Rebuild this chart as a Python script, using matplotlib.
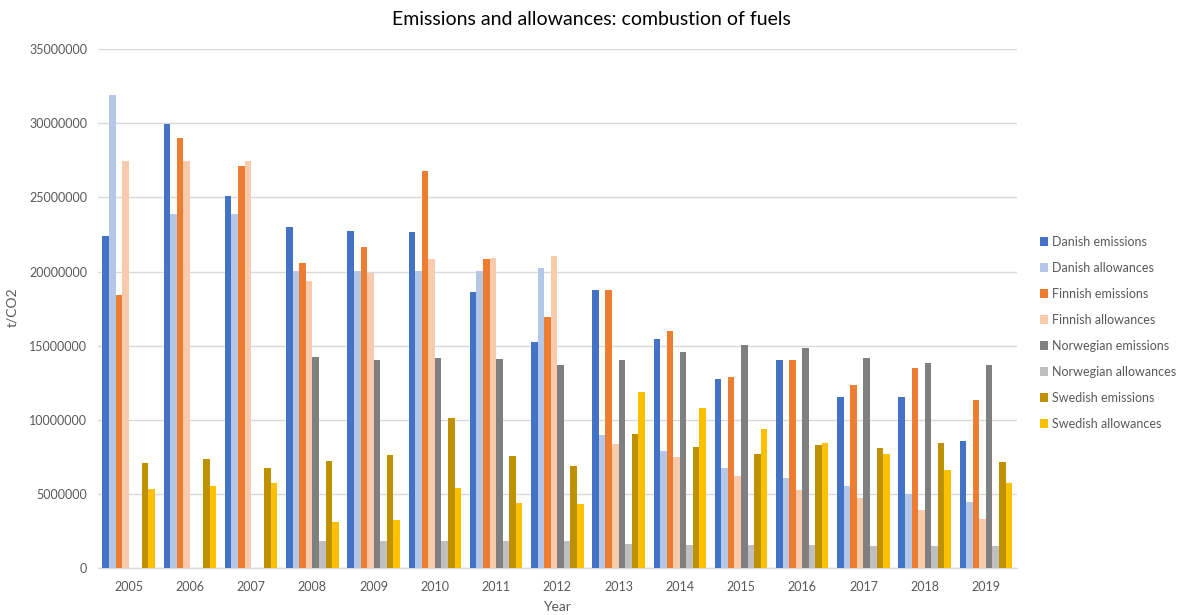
import numpy as np
import matplotlib
matplotlib.use("Agg")
import matplotlib.pyplot as plt

plt.rcParams['font.family'] = ['Lato', 'DejaVu Sans']

years = ["2005", "2006", "2007", "2008", "2009", "2010", "2011", "2012",
         "2013", "2014", "2015", "2016", "2017", "2018", "2019"]

danish_emissions = [22430000, 29970000, 25120000, 22990000, 22740000, 22680000, 18610000, 15270000,
                    18770000, 15420000, 12730000, 14010000, 11540000, 11540000, 8550000]
danish_allowances = [31880000, 23870000, 23870000, 20030000, 20030000, 20030000, 20030000, 20270000,
                     8980000, 7880000, 6780000, 6060000, 5500000, 5010000, 4470000]
finnish_emissions = [18450000, 29030000, 27120000, 20610000, 21640000, 26810000, 20840000, 16950000,
                     18770000, 15990000, 12910000, 14010000, 12350000, 13470000, 11320000]
finnish_allowances = [27440000, 27440000, 27440000, 19330000, 19890000, 20840000, 20920000, 21080000,
                      8350000, 7500000, 6220000, 5280000, 4710000, 3930000, 3280000]
norwegian_emissions = [np.nan, np.nan, np.nan, 14260000, 14010000, 14170000, 14080000, 13700000,
                       14010000, 14550000, 15020000, 14820000, 14170000, 13850000, 13700000]
norwegian_allowances = [np.nan, np.nan, np.nan, 1840000, 1840000, 1840000, 1840000, 1840000,
                        1620000, 1530000, 1530000, 1530000, 1460000, 1460000, 1460000]
swedish_emissions = [7070000, 7340000, 6780000, 7250000, 7630000, 10100000, 7570000, 6850000,
                     9070000, 8190000, 7660000, 8280000, 8130000, 8440000, 7160000]
swedish_allowances = [5340000, 5500000, 5730000, 3120000, 3210000, 5430000, 4380000, 4310000,
                      11850000, 10820000, 9380000, 8440000, 7720000, 6620000, 5750000]

series = [
    ("Danish emissions", danish_emissions, "#4472C4"),
    ("Danish allowances", danish_allowances, "#B4C7E7"),
    ("Finnish emissions", finnish_emissions, "#ED7D31"),
    ("Finnish allowances", finnish_allowances, "#F8CBAD"),
    ("Norwegian emissions", norwegian_emissions, "#7F7F7F"),
    ("Norwegian allowances", norwegian_allowances, "#BFBFBF"),
    ("Swedish emissions", swedish_emissions, "#BF9000"),
    ("Swedish allowances", swedish_allowances, "#FFC000"),
]

fig = plt.figure(figsize=(11.82, 6.15), dpi=100)
ax = fig.add_axes([0.083, 0.0764, 0.777, 0.8436])

x = np.arange(len(years))
n = len(series)
group_width = 0.857
bar_w = group_width / n
for i, (label, vals, color) in enumerate(series):
    offs = -group_width / 2 + bar_w * (i + 0.5)
    ax.bar(x + offs, np.array(vals, dtype=float), width=bar_w, color=color,
           label=label, linewidth=0, zorder=3)

ax.set_xlim(-0.5, len(years) - 0.5)
ax.set_ylim(0, 35000000)
ax.set_yticks(np.arange(0, 35000001, 5000000))
ax.yaxis.set_major_formatter(matplotlib.ticker.FuncFormatter(lambda v, p: f"{int(v)}"))
ax.set_xticks(x)
ax.set_xticklabels(years)
ax.tick_params(axis='both', length=0, labelsize=9, colors="#595959")
ax.tick_params(axis='y', pad=8)
ax.tick_params(axis='x', pad=9)

ax.grid(axis='y', color="#D9D9D9", linewidth=1, zorder=0)
for s in ["top", "right", "left"]:
    ax.spines[s].set_visible(False)
ax.spines["bottom"].set_color("#D9D9D9")
ax.spines["bottom"].set_linewidth(1)

fig.text(12 / 1182, 0.5, "t/CO2", rotation=90, ha="center", va="center",
         fontsize=10, color="#595959")
ax.set_xlabel("Year", fontsize=10, color="#595959", labelpad=6)

fig.text(0.5, 0.969, "Emissions and allowances: combustion of fuels",
         ha="center", va="center", fontsize=14, color="#000000")

leg = ax.legend(loc="center left", frameon=False,
                fontsize=9, handlelength=0.7, handleheight=0.7, handletextpad=0.3,
                labelspacing=1.12, labelcolor="#595959")
leg.set_bbox_to_anchor((0.870, 0.4585), transform=fig.transFigure)

fig.savefig("out.png", dpi=100)
